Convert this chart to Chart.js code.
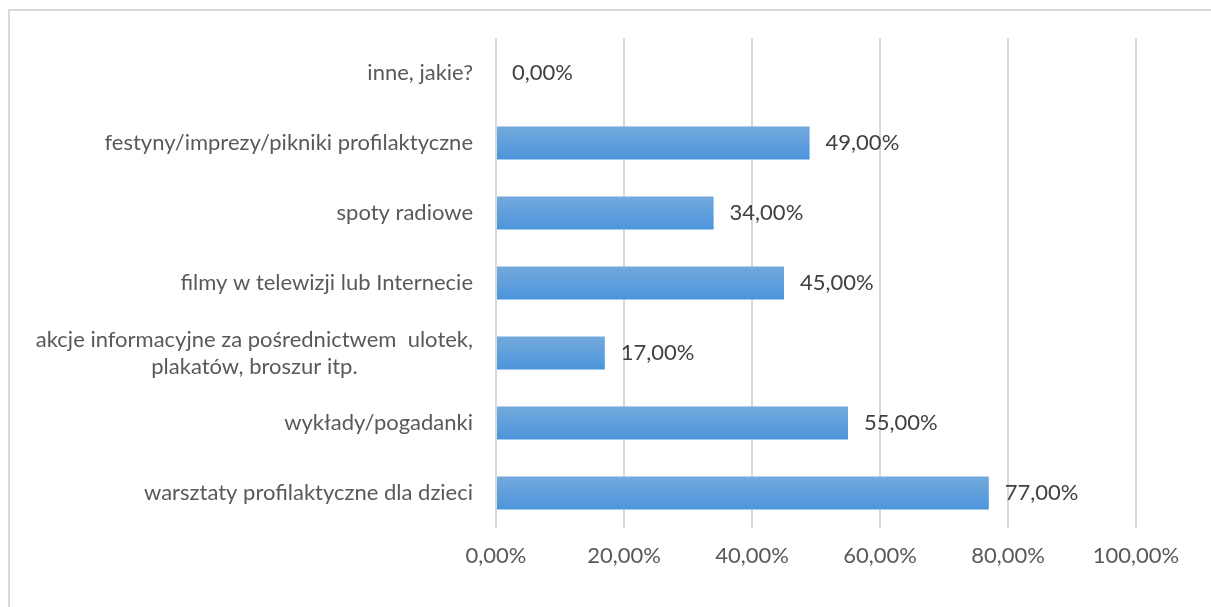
<!DOCTYPE html>
<html lang="pl">
<head>
<meta charset="utf-8">
<title>Formy profilaktyki</title>
<script src="https://cdn.jsdelivr.net/npm/chart.js@4.4.1/dist/chart.umd.min.js"></script>
<style>
  html, body { margin: 0; padding: 0; background: #fff; overflow: hidden; }
  #frame {
    position: absolute; left: 8px; top: 9px;
    width: 1300px; height: 700px;
    border: 2px solid #d9d9d9; box-sizing: border-box;
  }
  #wrap { position: absolute; left: 0; top: 0; width: 1211px; height: 607px; }
</style>
</head>
<body>
<div id="frame"></div>
<div id="wrap"><canvas id="chart" width="1211" height="607"></canvas></div>
<script>
const categories = [
  'inne, jakie?',
  'festyny/imprezy/pikniki profilaktyczne',
  'spoty radiowe',
  'filmy w telewizji lub Internecie',
  ['akcje informacyjne za pośrednictwem  ulotek,', 'plakatów, broszur itp.'],
  'wykłady/pogadanki',
  'warsztaty profilaktyczne dla dzieci'
];
const percentages = [0, 49, 34, 45, 17, 55, 77];
const tickValues = [0, 20, 40, 60, 80, 100];

const FONT = 'Lato, "Open Sans", sans-serif';
const FONT_SIZE = 22;
const BAR_PCT = 0.47;

const fmt = v => v.toFixed(2).replace('.', ',') + '%';

// bars shade from a lighter blue at the top to a deeper blue at the bottom
function barGradient(context) {
  const chart = context.chart;
  const y = chart.scales.y;
  if (!chart.chartArea || !y) return '#5b9bd5';
  const yc = y.getPixelForValue(context.dataIndex);
  const half = Math.abs(y.getPixelForValue(1) - y.getPixelForValue(0)) * BAR_PCT / 2;
  const g = chart.ctx.createLinearGradient(0, yc - half, 0, yc + half);
  g.addColorStop(0, '#74a9dc');
  g.addColorStop(1, '#4b95dc');
  return g;
}

// category names, right aligned; wrapped names are centred on their own block
const categoryLabels = {
  id: 'categoryLabels',
  afterDraw(chart) {
    const ctx = chart.ctx;
    const y = chart.scales.y;
    const right = chart.chartArea.left - 23;
    ctx.save();
    ctx.font = FONT_SIZE + 'px ' + FONT;
    ctx.fillStyle = '#595959';
    ctx.textBaseline = 'middle';
    categories.forEach((lab, i) => {
      const yc = y.getPixelForValue(i);
      if (Array.isArray(lab)) {
        const w = Math.max(...lab.map(l => ctx.measureText(l).width));
        const lh = 27;
        ctx.textAlign = 'center';
        lab.forEach((line, j) => {
          ctx.fillText(line, right - w / 2, yc + (j - (lab.length - 1) / 2) * lh);
        });
      } else {
        ctx.textAlign = 'right';
        ctx.fillText(lab, right, yc);
      }
    });
    ctx.restore();
  }
};

// value labels just past the end of each bar
const valueLabels = {
  id: 'valueLabels',
  afterDatasetsDraw(chart) {
    const ctx = chart.ctx;
    const meta = chart.getDatasetMeta(0);
    ctx.save();
    ctx.font = FONT_SIZE + 'px ' + FONT;
    ctx.fillStyle = '#404040';
    ctx.textAlign = 'left';
    ctx.textBaseline = 'middle';
    meta.data.forEach((bar, i) => {
      ctx.fillText(fmt(percentages[i]), bar.x + 16, bar.y);
    });
    ctx.restore();
  }
};

new Chart(document.getElementById('chart'), {
  type: 'bar',
  data: {
    labels: categories,
    datasets: [{
      data: percentages,
      backgroundColor: barGradient,
      borderWidth: 0,
      barPercentage: BAR_PCT,
      categoryPercentage: 1
    }]
  },
  options: {
    indexAxis: 'y',
    responsive: false,
    animation: false,
    layout: { padding: { top: 38, right: 75, left: 0, bottom: 0 } },
    plugins: {
      legend: { display: false },
      tooltip: { enabled: false }
    },
    scales: {
      x: {
        min: 0,
        max: 100,
        afterBuildTicks: scale => { scale.ticks = tickValues.map(v => ({ value: v })); },
        afterFit: scale => { scale.height = 79; },
        grid: { color: '#d9d9d9', lineWidth: 2, drawTicks: false },
        border: { display: false },
        ticks: {
          padding: 15,
          color: '#595959',
          font: { family: FONT, size: FONT_SIZE },
          callback: v => fmt(v)
        }
      },
      y: {
        afterFit: scale => { scale.width = 496; },
        grid: { display: false },
        border: { display: false },
        ticks: { display: false }
      }
    }
  },
  plugins: [categoryLabels, valueLabels]
});
</script>
</body>
</html>
